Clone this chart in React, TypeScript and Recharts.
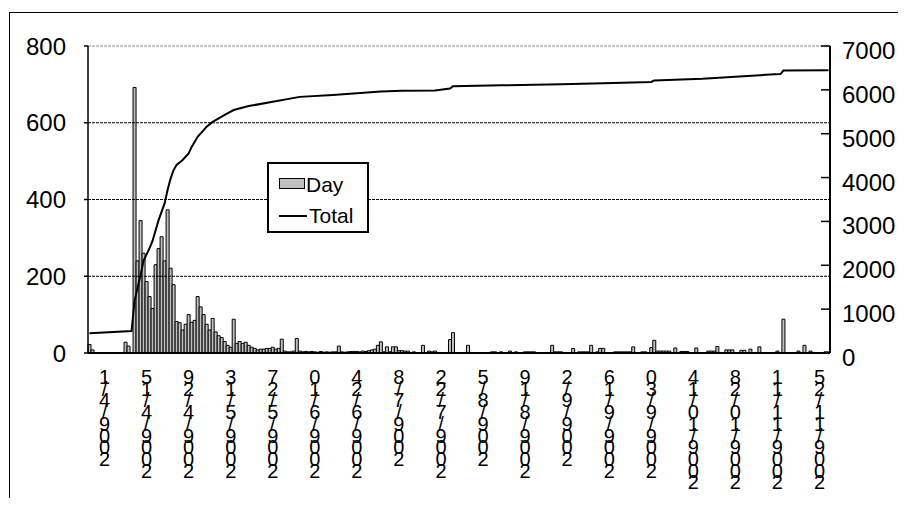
import React from 'react';
import {
  ComposedChart,
  Bar,
  Line,
  XAxis,
  YAxis,
  ReferenceLine,
  Legend,
} from 'recharts';

const FONT = '"Liberation Sans", Arial, Helvetica, sans-serif';

// first day on the category axis
const START = { year: 2009, month: 3, day: 27 };

// new cases per day; first row is 3/27-3/31, then one row per two-week tick
const dayCounts: number[] = [
  22, 8, 0, 0, 0,
  0, 0, 0, 0, 0, 0, 0, 28, 18, 0, 692, 240, 345, 260,
  186, 147, 116, 230, 272, 303, 240, 373, 221, 178, 82, 79, 60, 75,
  100, 80, 85, 147, 120, 100, 75, 60, 90, 55, 45, 40, 30, 20,
  15, 88, 25, 30, 25, 28, 20, 15, 12, 8, 10, 10, 12, 12,
  15, 10, 12, 36, 5, 3, 3, 5, 38, 5, 3, 4, 3, 4,
  3, 2, 4, 2, 3, 2, 3, 3, 18, 3, 2, 3, 4, 4,
  4, 3, 5, 4, 6, 8, 10, 20, 29, 3, 16, 3, 16, 16,
  6, 6, 5, 5, 0, 3, 0, 0, 20, 0, 5, 3, 5, 0,
  0, 0, 0, 35, 53, 0, 0, 0, 0, 20, 0, 0, 0, 0,
  0, 0, 0, 3, 3, 0, 3, 0, 0, 5, 0, 3, 0, 0,
  3, 3, 3, 3, 0, 0, 0, 0, 0, 20, 3, 3, 3, 0,
  0, 0, 12, 0, 3, 3, 3, 3, 20, 0, 3, 12, 12, 0,
  0, 0, 3, 3, 3, 3, 3, 3, 16, 0, 0, 3, 3, 0,
  14, 33, 5, 5, 5, 5, 5, 0, 13, 0, 4, 4, 4, 0,
  0, 13, 0, 0, 0, 5, 5, 5, 17, 0, 0, 8, 8, 8,
  0, 0, 7, 7, 0, 10, 0, 0, 16, 0, 0, 0, 0, 0,
  5, 0, 88, 0, 0, 0, 0, 5, 0, 20, 0, 5, 0, 0,
  0, 0, 3, 3,
];

// running total at selected days; the line joins these points
const totalReadings: [string, number][] = [
  ['2009/3/27', 450],
  ['2009/4/10', 500],
  ['2009/4/11', 1190],
  ['2009/4/13', 1780],
  ['2009/4/14', 2100],
  ['2009/4/15', 2250],
  ['2009/4/16', 2390],
  ['2009/4/17', 2560],
  ['2009/4/19', 3030],
  ['2009/4/21', 3410],
  ['2009/4/22', 3720],
  ['2009/4/23', 3980],
  ['2009/4/24', 4170],
  ['2009/4/25', 4290],
  ['2009/4/27', 4400],
  ['2009/4/29', 4550],
  ['2009/4/30', 4700],
  ['2009/5/2', 4930],
  ['2009/5/4', 5080],
  ['2009/5/5', 5160],
  ['2009/5/7', 5270],
  ['2009/5/9', 5350],
  ['2009/5/11', 5430],
  ['2009/5/14', 5540],
  ['2009/5/19', 5630],
  ['2009/5/27', 5730],
  ['2009/6/5', 5840],
  ['2009/6/16', 5880],
  ['2009/7/2', 5960],
  ['2009/7/9', 5980],
  ['2009/7/20', 5985],
  ['2009/7/25', 6030],
  ['2009/7/26', 6085],
  ['2009/8/11', 6103],
  ['2009/8/31', 6126],
  ['2009/9/14', 6149],
  ['2009/9/30', 6180],
  ['2009/10/1', 6215],
  ['2009/10/17', 6255],
  ['2009/10/28', 6300],
  ['2009/11/10', 6354],
  ['2009/11/12', 6360],
  ['2009/11/13', 6440],
  ['2009/11/28', 6445],
];

const tickDates = [
  '2009/4/1', '2009/4/15', '2009/4/29', '2009/5/13', '2009/5/27', '2009/6/10',
  '2009/6/24', '2009/7/8', '2009/7/22', '2009/8/5', '2009/8/19', '2009/9/2',
  '2009/9/16', '2009/9/30', '2009/10/14', '2009/10/28', '2009/11/11', '2009/11/25',
];

const leftTicks = [0, 200, 400, 600, 800];
const rightTicks = [0, 1000, 2000, 3000, 4000, 5000, 6000, 7000];
const gridValues = [200, 400, 600];

const dates = dayCounts.map((_, i) => {
  const d = new Date(START.year, START.month - 1, START.day + i);
  return `${d.getFullYear()}/${d.getMonth() + 1}/${d.getDate()}`;
});
const totalByDate = new Map(totalReadings);
const data = dates.map((date, i) => ({
  date,
  day: dayCounts[i],
  total: totalByDate.has(date) ? totalByDate.get(date) : null,
}));

// date labels are drawn one character per line, last character on top
function DateTick({ x, y, payload }: any) {
  if (!tickDates.includes(payload.value)) return <g />;
  const chars = String(payload.value).split('').reverse();
  return (
    <g>
      {chars.map((c, k) => (
        <text
          key={k}
          x={x}
          y={y + 31 + k * 11.7}
          textAnchor="middle"
          fontSize={20}
          fontFamily={FONT}
          fill="#000"
        >
          {c}
        </text>
      ))}
    </g>
  );
}

// right axis: tick marks point into the plot
function RightTick({ x, y, payload }: any) {
  return (
    <g>
      <line x1={x - 9} x2={x} y1={y} y2={y} stroke="#000" strokeWidth={1.5} />
      <text x={x + 12} y={y + 13} fontSize={24} fontFamily={FONT} fill="#000">
        {payload.value}
      </text>
    </g>
  );
}

function LegendBox({ payload }: any) {
  const rows = payload || [];
  return (
    <div
      style={{
        position: 'relative',
        width: 102,
        height: 71,
        boxSizing: 'border-box',
        border: '2px solid #000',
        background: '#fff',
        fontFamily: FONT,
        fontSize: 21,
        lineHeight: '21px',
        color: '#000',
      }}
    >
      {rows.map((entry: any, i: number) => {
        const top = i === 0 ? 10 : 41;
        return (
          <div key={entry.value} style={{ position: 'absolute', left: 0, top, height: 21, width: '100%' }}>
            {entry.type === 'line' ? (
              <div style={{ position: 'absolute', left: 10, top: 10, width: 28, height: 2, background: '#000' }} />
            ) : (
              <div
                style={{
                  position: 'absolute',
                  left: 10,
                  top: 4,
                  width: 26,
                  height: 11,
                  boxSizing: 'border-box',
                  background: '#c0c0c0',
                  border: '1.5px solid #000',
                }}
              />
            )}
            <span style={{ position: 'absolute', left: entry.type === 'line' ? 40 : 37, top: 0 }}>{entry.value}</span>
          </div>
        );
      })}
    </div>
  );
}

export default function App() {
  return (
    <div style={{ position: 'relative', width: 890, height: 490, overflow: 'hidden', background: '#fff' }}>
      <div
        style={{
          position: 'absolute',
          left: 1,
          top: 4,
          width: 2000,
          height: 2000,
          border: '1px solid #000',
        }}
      />
      <ComposedChart
        width={890}
        height={490}
        data={data}
        margin={{ top: 38, right: 0, bottom: 0, left: 0 }}
        barCategoryGap={0}
        barGap={0}
      >
        {gridValues.map((v) => (
          <ReferenceLine key={v} yAxisId="left" y={v} stroke="#000" strokeDasharray="3 1" />
        ))}
        <ReferenceLine yAxisId="left" y={800} stroke="#888" strokeDasharray="3 1" />
        <XAxis
          dataKey="date"
          interval={0}
          height={145}
          tickLine={false}
          tickSize={0}
          tickMargin={0}
          axisLine={{ stroke: '#000', strokeWidth: 2 }}
          tick={<DateTick />}
        />
        <YAxis
          yAxisId="left"
          domain={[0, 800]}
          ticks={leftTicks}
          width={80}
          tickSize={4}
          tickMargin={18}
          axisLine={{ stroke: '#000', strokeWidth: 1.5 }}
          tickLine={{ stroke: '#000', strokeWidth: 1.5 }}
          tick={{ fontSize: 24, fill: '#000', fontFamily: FONT }}
        />
        <YAxis
          yAxisId="right"
          orientation="right"
          domain={[0, 7000]}
          ticks={rightTicks}
          width={68}
          tickSize={0}
          tickMargin={0}
          tickLine={false}
          axisLine={{ stroke: '#000', strokeWidth: 2 }}
          tick={<RightTick />}
        />
        <Legend
          layout="vertical"
          align="center"
          verticalAlign="middle"
          content={<LegendBox />}
          wrapperStyle={{ left: 259, top: 154, width: 102, height: 71 }}
        />
        <Bar
          yAxisId="left"
          dataKey="day"
          name="Day"
          fill="#c0c0c0"
          stroke="#000"
          strokeWidth={1}
          isAnimationActive={false}
        />
        <Line
          yAxisId="right"
          dataKey="total"
          name="Total"
          type="linear"
          stroke="#000"
          strokeWidth={2}
          dot={false}
          connectNulls
          isAnimationActive={false}
        />
      </ComposedChart>
    </div>
  );
}
